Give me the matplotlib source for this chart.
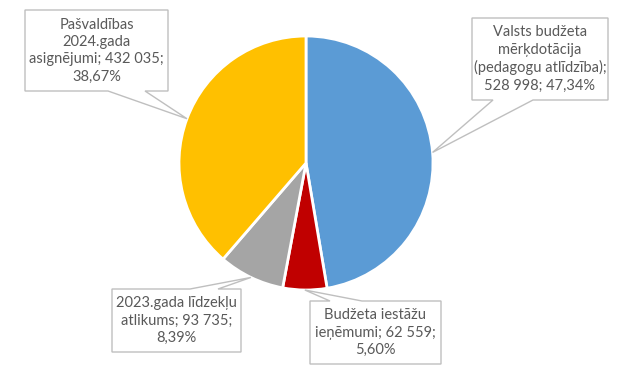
import numpy as np
import matplotlib.pyplot as plt
from matplotlib.patches import Polygon

labels = ['Valsts budžeta\nmērķdotācija\n(pedagogu atlīdzība);\n528 998; 47,34%',
          'Budžeta iestāžu\nieņēmumi; 62 559;\n5,60%',
          '2023.gada līdzekļu\natlikums; 93 735;\n8,39%',
          'Pašvaldības\n2024.gada\nasignējumi; 432 035;\n38,67%']
values = [528998, 62559, 93735, 432035]
colors = ['#5B9BD5', '#C00000', '#A5A5A5', '#FFC000']

W, H = 643, 372
# label boxes in pixels: x0, y0, x1, y1, side of tail, tail base range
boxes = [
    (472, 18, 608, 100, 'bottom', (493, 533)),
    (310, 301, 441, 364, 'top', (330, 362)),
    (112, 289, 241, 352, 'top', (190, 218)),
    (25, 10, 168, 91, 'bottom', (108, 145)),
]

fig = plt.figure(figsize=(W / 100, H / 100), dpi=100)
ax = fig.add_axes([0, 0, 1, 1])
ax.set_xlim(0, W)
ax.set_ylim(0, H)
ax.set_aspect('equal')
ax.axis('off')

cx, cy, r = 306, H - 163, 127
wedges, _ = ax.pie(values, colors=colors, startangle=90, counterclock=False,
                   center=(cx, cy), radius=r, frame=True,
                   wedgeprops=dict(edgecolor='white', linewidth=2))
ax.set_xlim(0, W)
ax.set_ylim(0, H)
ax.axis('off')

for w, lab, (x0, y0, x1, y1, side, (b0, b1)) in zip(wedges, labels, boxes):
    mid = np.deg2rad((w.theta1 + w.theta2) / 2)
    tip = (cx + r * np.cos(mid), cy + r * np.sin(mid))
    X0, X1 = x0, x1
    Yt, Yb = H - y0, H - y1
    if side == 'bottom':
        pts = [(X0, Yt), (X1, Yt), (X1, Yb), (b1, Yb), tip, (b0, Yb), (X0, Yb)]
    else:
        pts = [(X0, Yb), (X0, Yt), (b0, Yt), tip, (b1, Yt), (X1, Yt), (X1, Yb)]
    ax.add_patch(Polygon(pts, closed=True, facecolor='white', edgecolor='#BFBFBF',
                         linewidth=1, zorder=3))
    ax.text((X0 + X1) / 2, (Yt + Yb) / 2, lab, ha='center', va='center',
            fontsize=10.5, color='#595959', family='Lato', linespacing=1.3, zorder=4)

fig.savefig('out.png', dpi=100)
